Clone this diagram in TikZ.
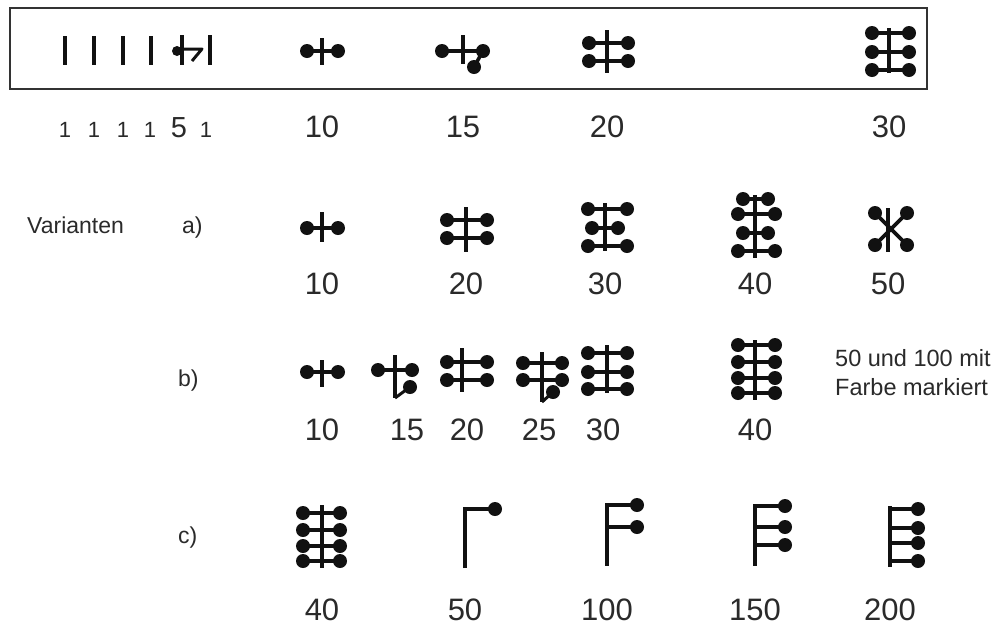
\documentclass[tikz,border=0pt]{standalone}
\usepackage{fontspec}
\setmainfont{Liberation Sans}
\definecolor{ink}{HTML}{111111}
\definecolor{txt}{HTML}{2A2A2A}
\definecolor{frame}{HTML}{333333}
\begin{document}
\begin{tikzpicture}[x=1pt,y=-1pt,
  bar/.style={draw=ink,line width=3.6pt},
  hook/.style={draw=ink,line width=3pt,line join=round},
  bead/.style={fill=ink},
  lab/.style={text=txt,inner sep=0pt,anchor=base,font=\fontsize{31}{36}\selectfont},
  smalllab/.style={text=txt,inner sep=0pt,anchor=base,font=\fontsize{22}{26}\selectfont},
  note/.style={text=txt,inner sep=0pt,anchor=base west,font=\fontsize{23}{27}\selectfont},
  boxframe/.style={draw=frame,line width=2.4pt}]
\fill[white] (0,0) rectangle (1002,630);
\useasboundingbox (0,0) rectangle (1002,630);
\newcommand\bd[2]{\fill[bead] (#1,#2) circle[radius=7pt];}
% ---------- top box ----------
\draw[boxframe] (10,8) rectangle (927,89);
\foreach \x in {65,94,123,151} \draw[bar] (\x,36) -- (\x,65);
\draw[bar] (182,35) -- (182,65);
\fill[bead] (177,51) circle[radius=5pt];
\draw[hook] (182,49) -- (202,49) -- (192,61);
\draw[bar] (210,35) -- (210,65);
% 10
\draw[bar] (307,51) -- (338,51); \draw[bar] (322,38) -- (322,65);
\bd{307}{51}\bd{338}{51}
% 15
\draw[bar] (442,51) -- (483,51); \draw[bar] (463,35) -- (463,64);
\draw[bar] (483,51) -- (474,67);
\bd{442}{51}\bd{483}{51}\bd{474}{67}
% 20
\draw[bar] (607,30) -- (607,73);
\foreach \y in {43,61} {\draw[bar] (589,\y) -- (628,\y); \bd{589}{\y}\bd{628}{\y}}
% 30
\draw[bar] (889,28) -- (889,73);
\foreach \y in {33,52,70} {\draw[bar] (872,\y) -- (909,\y); \bd{872}{\y}\bd{909}{\y}}
% top labels
\node[smalllab] (t1) at (65,137) {1};
\node[smalllab] (t2) at (94,137) {1};
\node[smalllab] (t3) at (123,137) {1};
\node[smalllab] (t4) at (150,137) {1};
\node[lab,font=\fontsize{29}{33}\selectfont] (t5) at (179,137) {5};
\node[smalllab] (t6) at (206,137) {1};
\node[lab] (t10) at (322,137) {10};
\node[lab] (t15) at (463,137) {15};
\node[lab] (t20) at (607,137) {20};
\node[lab] (t30) at (889,137) {30};
% ---------- row a ----------
\node[note] (var) at (27,233) {Varianten};
\node[note] (la) at (182,233) {a)};
\draw[bar] (307,228) -- (338,228); \draw[bar] (322,212) -- (322,242);
\bd{307}{228}\bd{338}{228}
\draw[bar] (466,207) -- (466,252);
\foreach \y in {220,238} {\draw[bar] (447,\y) -- (487,\y); \bd{447}{\y}\bd{487}{\y}}
\draw[bar] (605,203) -- (605,251);
\foreach \y in {209,246} {\draw[bar] (588,\y) -- (627,\y); \bd{588}{\y}\bd{627}{\y}}
\draw[bar] (592,228) -- (618,228); \bd{592}{228}\bd{618}{228}
\draw[bar] (755,195) -- (755,258);
\foreach \y in {199,233} {\draw[bar] (743,\y) -- (768,\y); \bd{743}{\y}\bd{768}{\y}}
\foreach \y in {214,251} {\draw[bar] (738,\y) -- (775,\y); \bd{738}{\y}\bd{775}{\y}}
\draw[bar] (888,208) -- (888,252);
\draw[bar] (875,213) -- (907,245); \draw[bar] (907,213) -- (875,245);
\bd{875}{213}\bd{907}{213}\bd{875}{245}\bd{907}{245}
\node[lab] (a10) at (322,294) {10};
\node[lab] (a20) at (466,294) {20};
\node[lab] (a30) at (605,294) {30};
\node[lab] (a40) at (755,294) {40};
\node[lab] (a50) at (888,294) {50};
% ---------- row b ----------
\node[note] (lb) at (178,386) {b)};
\draw[bar] (307,372) -- (338,372); \draw[bar] (322,360) -- (322,387);
\bd{307}{372}\bd{338}{372}
\draw[bar] (378,370) -- (412,370); \draw[bar] (395,355) -- (395,398);
\draw[hook] (395,398) -- (410,387);
\bd{378}{370}\bd{412}{370}\bd{410}{387}
\draw[bar] (462,348) -- (462,392);
\foreach \y in {362,380} {\draw[bar] (447,\y) -- (487,\y); \bd{447}{\y}\bd{487}{\y}}
\draw[bar] (542,352) -- (542,402);
\foreach \y in {363,380} {\draw[bar] (523,\y) -- (562,\y); \bd{523}{\y}\bd{562}{\y}}
\draw[hook] (542,402) -- (553,392); \bd{553}{392}
\draw[bar] (607,345) -- (607,393);
\foreach \y in {353,372,389} {\draw[bar] (588,\y) -- (627,\y); \bd{588}{\y}\bd{627}{\y}}
\draw[bar] (755,340) -- (755,400);
\foreach \y in {345,362,378,393} {\draw[bar] (738,\y) -- (775,\y); \bd{738}{\y}\bd{775}{\y}}
\node[note,font=\fontsize{23.5}{28}\selectfont] (n1) at (835,366) {50 und 100 mit};
\node[note,font=\fontsize{23.5}{28}\selectfont] (n2) at (835,395) {Farbe markiert};
\node[lab] (b10) at (322,440) {10};
\node[lab] (b15) at (407,440) {15};
\node[lab] (b20) at (467,440) {20};
\node[lab] (b25) at (539,440) {25};
\node[lab] (b30) at (603,440) {30};
\node[lab] (b40) at (755,440) {40};
% ---------- row c ----------
\node[note] (lc) at (178,543) {c)};
\draw[bar] (322,505) -- (322,568);
\foreach \y in {513,530,546,561} {\draw[bar] (303,\y) -- (340,\y); \bd{303}{\y}\bd{340}{\y}}
\draw[bar,line join=miter] (465,568) -- (465,509) -- (495,509); \bd{495}{509}
\draw[bar] (607,504) -- (607,566);
\foreach \y in {505,527} {\draw[bar] (605.2,\y) -- (637,\y); \bd{637}{\y}}
\draw[bar] (755,504) -- (755,566);
\foreach \y in {506,527,545} {\draw[bar] (753.2,\y) -- (785,\y); \bd{785}{\y}}
\draw[bar] (890,506) -- (890,567);
\foreach \y in {509,528,543,561} {\draw[bar] (888.2,\y) -- (918,\y); \bd{918}{\y}}
\node[lab] (c40) at (322,620) {40};
\node[lab] (c50) at (465,620) {50};
\node[lab] (c100) at (607,620) {100};
\node[lab] (c150) at (755,620) {150};
\node[lab] (c200) at (890,620) {200};
\end{tikzpicture}
\end{document}
